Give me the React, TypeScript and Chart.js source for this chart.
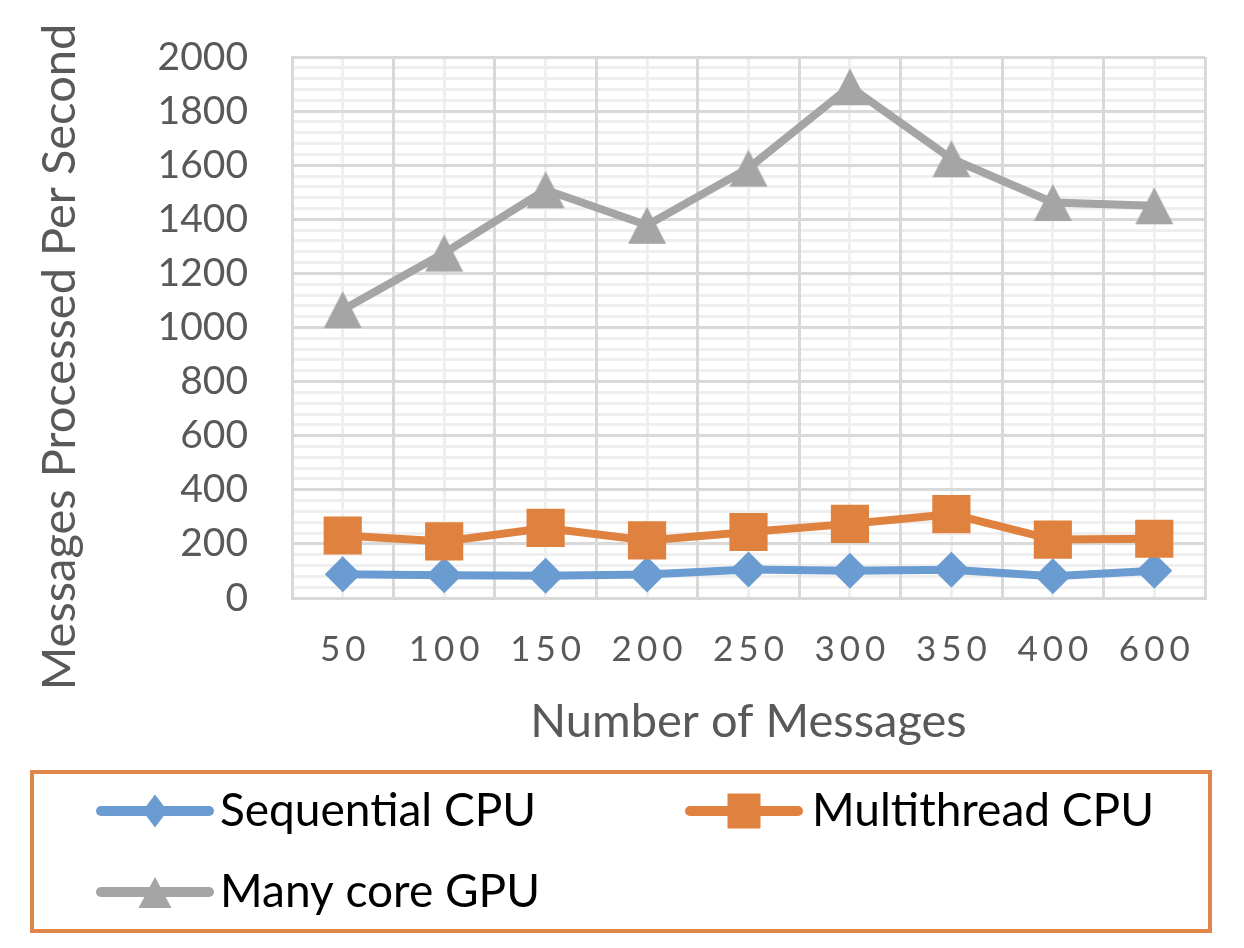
import React, { useEffect, useRef } from 'react';
import { Chart, registerables } from 'chart.js';

Chart.register(...registerables);

// ---- data ----
const categories = ['50', '100', '150', '200', '250', '300', '350', '400', '600'];
const sequentialCPU = [88, 84, 82, 87, 105, 101, 104, 80, 101];
const multithreadCPU = [231, 209, 259, 213, 244, 274, 310, 216, 219];
const manyCoreGPU = [1066, 1275, 1509, 1378, 1589, 1890, 1624, 1462, 1450];
const seriesNames = ['Sequential CPU', 'Multithread CPU', 'Many core GPU'];
const seriesColors = ['#6A9BD1', '#E0823F', '#A5A5A5'];
const yMin = 0;
const yMax = 2000;
const yMajorStep = 200;
const yMinorStep = 40;
const xTitle = 'Number of Messages';
const yTitle = 'Messages Processed Per Second';

const AXIS_COLOR = '#595959';
const MAJOR_GRID = '#D9D9D9';
const MINOR_GRID = '#EFEFEF';
const FONT = 'Lato';

function makeTriangle(color: string, w: number, h: number) {
  const c = document.createElement('canvas');
  c.width = Math.ceil(w) + 2;
  c.height = Math.ceil(h) + 2;
  const g = c.getContext('2d')!;
  g.fillStyle = color;
  g.beginPath();
  g.moveTo(c.width / 2, 1);
  g.lineTo(c.width / 2 + w / 2, 1 + h);
  g.lineTo(c.width / 2 - w / 2, 1 + h);
  g.closePath();
  g.fill();
  return c;
}

const legendLayout = [
  { x: 96, y: 811, textX: 220, baseline: 826 },
  { x: 685, y: 811, textX: 812, baseline: 826 },
  { x: 96, y: 892, textX: 220, baseline: 907 },
];

function drawLegendMarker(ctx: CanvasRenderingContext2D, i: number, cx: number, cy: number) {
  ctx.fillStyle = seriesColors[i];
  ctx.beginPath();
  if (i === 0) {
    ctx.moveTo(cx, cy - 16.5);
    ctx.lineTo(cx + 12.5, cy);
    ctx.lineTo(cx, cy + 16.5);
    ctx.lineTo(cx - 12.5, cy);
    ctx.closePath();
  } else if (i === 1) {
    ctx.rect(cx - 16.5, cy - 17.5, 33, 35);
  } else {
    ctx.moveTo(cx, cy - 15);
    ctx.lineTo(cx + 16.5, cy + 16);
    ctx.lineTo(cx - 16.5, cy + 16);
    ctx.closePath();
  }
  ctx.fill();
}

const extrasPlugin = {
  id: 'excelExtras',
  beforeDraw(chart: any) {
    const xs = chart.scales.x;
    if (xs && !xs.__lsWrapped) {
      const orig = xs.drawLabels;
      xs.drawLabels = function (area: any) {
        const c = this.ctx;
        c.save();
        (c as any).letterSpacing = '5px';
        c.translate(2.5, 0);
        orig.call(this, area);
        c.restore();
      };
      xs.__lsWrapped = true;
    }
  },
  afterDraw(chart: any) {
    const ctx: CanvasRenderingContext2D = chart.ctx;
    // y-axis title
    ctx.save();
    ctx.translate(75, 357);
    ctx.rotate(-Math.PI / 2);
    ctx.font = `47px ${FONT}`;
    ctx.fillStyle = AXIS_COLOR;
    ctx.textAlign = 'center';
    ctx.textBaseline = 'alphabetic';
    ctx.fillText(yTitle, 0, 0);
    ctx.restore();

    // legend box
    ctx.save();
    ctx.strokeStyle = '#E1864A';
    ctx.lineWidth = 4;
    ctx.strokeRect(32, 772, 1178, 159);
    legendLayout.forEach((p, i) => {
      ctx.strokeStyle = seriesColors[i];
      ctx.lineWidth = 10;
      ctx.lineCap = 'round';
      ctx.beginPath();
      ctx.moveTo(p.x + 5, p.y);
      ctx.lineTo(p.x + 113, p.y);
      ctx.stroke();
      drawLegendMarker(ctx, i, p.x + 59, p.y);
      ctx.fillStyle = '#000000';
      ctx.font = `46px ${FONT}`;
      ctx.textAlign = 'left';
      ctx.textBaseline = 'alphabetic';
      ctx.fillText(seriesNames[i], p.textX, p.baseline);
    });
    ctx.restore();
  },
};

export default function App() {
  const canvasRef = useRef<HTMLCanvasElement | null>(null);

  useEffect(() => {
    document.body.style.margin = '0';
    let chart: Chart | null = null;
    let cancelled = false;

    const build = () => {
      if (cancelled || !canvasRef.current) return;
      const tri = makeTriangle(seriesColors[2], 38, 37);
      chart = new Chart(canvasRef.current, {
        type: 'line',
        data: {
          labels: categories,
          datasets: [
            {
              label: seriesNames[0],
              data: sequentialCPU,
              borderColor: seriesColors[0],
              backgroundColor: seriesColors[0],
              borderWidth: 8,
              pointStyle: 'rectRot',
              pointRadius: 18,
              pointBorderWidth: 0,
              pointBackgroundColor: seriesColors[0],
              order: 3,
            },
            {
              label: seriesNames[1],
              data: multithreadCPU,
              borderColor: seriesColors[1],
              backgroundColor: seriesColors[1],
              borderWidth: 8,
              pointStyle: 'rect',
              pointRadius: 27,
              pointBorderWidth: 0,
              pointBackgroundColor: seriesColors[1],
              order: 2,
            },
            {
              label: seriesNames[2],
              data: manyCoreGPU,
              borderColor: seriesColors[2],
              backgroundColor: seriesColors[2],
              borderWidth: 8,
              pointStyle: tri as any,
              pointRadius: 20,
              pointBorderWidth: 0,
              pointBackgroundColor: seriesColors[2],
              order: 1,
            },
          ],
        },
        options: {
          responsive: false,
          animation: false,
          events: [],
          devicePixelRatio: 1,
          layout: { padding: { top: 57, right: 39, bottom: 190, left: 0 } },
          plugins: {
            legend: { display: false },
            tooltip: { enabled: false },
          },
          scales: {
            x2: {
              type: 'category',
              position: 'top',
              offset: true,
              grid: { offset: false, color: MINOR_GRID, lineWidth: 3, drawTicks: false, z: -3 } as any,
              border: { display: false },
              ticks: { display: false },
              afterFit: (s: any) => { s.height = 0; },
            },
            y: {
              type: 'linear',
              min: yMin,
              max: yMax,
              ticks: {
                stepSize: yMinorStep,
                autoSkip: false,
                color: AXIS_COLOR,
                font: { family: FONT, size: 39 },
                padding: 44,
                callback: (v: any) => (Number(v) % yMajorStep === 0 ? String(v) : ''),
              },
              grid: {
                color: (c: any) => (c.tick && c.tick.value % yMajorStep === 0 ? MAJOR_GRID : MINOR_GRID),
                lineWidth: 3,
                drawTicks: false,
                z: -2,
              } as any,
              border: { display: true, color: MAJOR_GRID, width: 3 },
              afterFit: (s: any) => {
                s.width = 292;
                s.paddingTop = 0;
                s.paddingBottom = 0;
              },
            },
            x: {
              type: 'category',
              offset: true,
              grid: { offset: true, color: MAJOR_GRID, lineWidth: 3, drawTicks: false, z: -1 } as any,
              border: { display: true, color: MAJOR_GRID, width: 3 },
              ticks: {
                color: AXIS_COLOR,
                font: { family: FONT, size: 35 },
                padding: 31,
                maxRotation: 0,
                autoSkip: false,
              },
              title: {
                display: true,
                text: xTitle,
                color: AXIS_COLOR,
                font: { family: FONT, size: 47 },
                padding: { top: 0, bottom: 8 },
              },
              afterFit: (s: any) => { s.height = 160; },
            },
          },
        },
        plugins: [extrasPlugin],
      });
    };

    const fontsReady = (document as any).fonts
      ? Promise.all([(document as any).fonts.load(`35px ${FONT}`)]).catch(() => null)
      : Promise.resolve(null);
    fontsReady.then(build);

    return () => {
      cancelled = true;
      if (chart) chart.destroy();
    };
  }, []);

  return (
    <div style={{ width: 1244, height: 948, position: 'relative', background: '#ffffff' }}>
      <canvas ref={canvasRef} width={1244} height={948} style={{ display: 'block' }} />
    </div>
  );
}
